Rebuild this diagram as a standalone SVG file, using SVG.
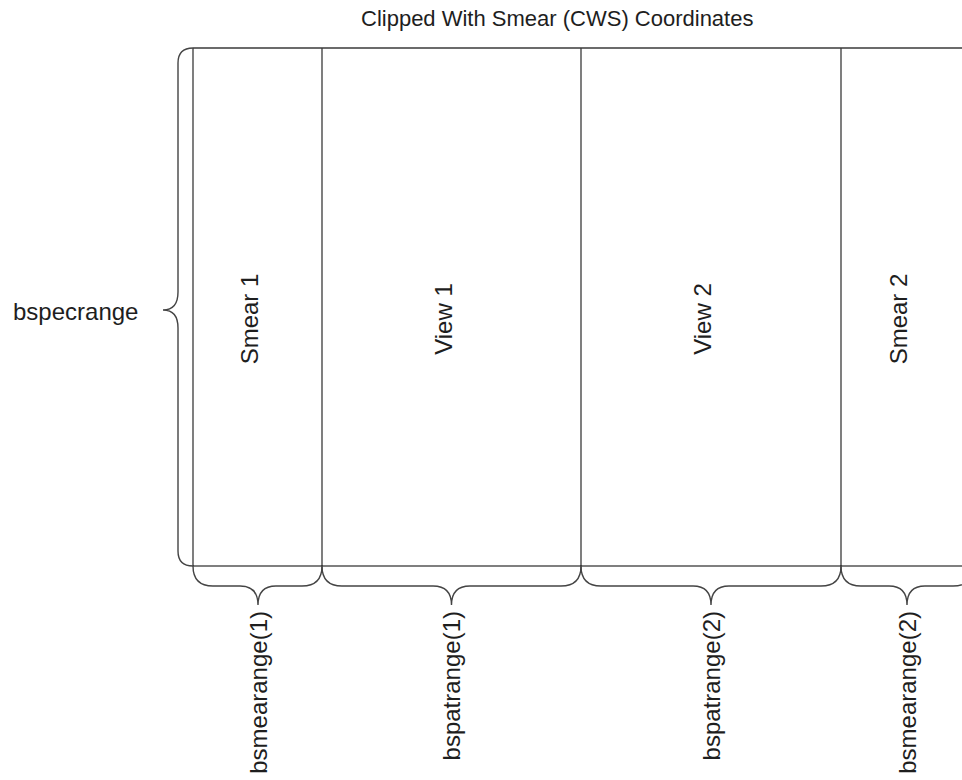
<svg xmlns="http://www.w3.org/2000/svg" width="962" height="780" viewBox="0 0 962 780">
  <style>
    .frame { fill: none; stroke: #3a3a3a; stroke-width: 1.3; }
    .base { fill: none; stroke: #000; stroke-width: 1.2; }
    .brace { fill: none; stroke: #444; stroke-width: 1.4; }
    text { font-family: "Liberation Sans", Arial, sans-serif; fill: #1e1e1e; }
    .lbl { font-size: 24px; }
    .title { font-size: 22px; }
  </style>
  <rect width="962" height="780" fill="#fff"/>

  <text class="title" x="361" y="26">Clipped With Smear (CWS) Coordinates</text>

  <!-- columns of the CWS frame -->
  <g id="smear1">
    <line class="frame" x1="193" y1="48" x2="193" y2="566"/>
    <text class="lbl" text-anchor="middle" transform="translate(257.5,319) rotate(-90)">Smear 1</text>
  </g>
  <g id="view1">
    <line class="frame" x1="322" y1="48" x2="322" y2="566"/>
    <text class="lbl" text-anchor="middle" transform="translate(451.5,319) rotate(-90)">View 1</text>
  </g>
  <g id="view2">
    <line class="frame" x1="581" y1="48" x2="581" y2="566"/>
    <text class="lbl" text-anchor="middle" transform="translate(711,319) rotate(-90)">View 2</text>
  </g>
  <g id="smear2">
    <line class="frame" x1="841" y1="48" x2="841" y2="566"/>
    <text class="lbl" text-anchor="middle" transform="translate(907,319) rotate(-90)">Smear 2</text>
  </g>

  <g id="connectors">
    <line class="frame" x1="193" y1="48" x2="962" y2="48"/>
    <line class="base" x1="193" y1="566" x2="962" y2="566"/>

    <!-- vertical brace on the left -->
    <path class="brace" d="M193,48 Q178,48 178,63 L178,292 Q178,310 163,310 Q178,310 178,328 L178,551 Q178,566 193,566"/>

    <!-- braces under the columns -->
    <path class="brace" d="M193,566 Q193,586 213,586 L240,586 Q258,586 258,605 Q258,586 276,586 L302,586 Q322,586 322,566"/>
    <path class="brace" d="M322,566 Q322,586 342,586 L433,586 Q451.5,586 451.5,605 Q451.5,586 470,586 L561,586 Q581,586 581,566"/>
    <path class="brace" d="M581,566 Q581,586 601,586 L693,586 Q711,586 711,605 Q711,586 729,586 L821,586 Q841,586 841,566"/>
    <path class="brace" d="M841,566 Q841,586 861,586 L889,586 Q907,586 907,605 Q907,586 925,586 L953,586 Q973,586 973,566"/>
  </g>

  <g id="bspecrange">
    <text class="lbl" x="13" y="320">bspecrange</text>
  </g>
  <g id="bsmearange1">
    <text class="lbl" text-anchor="end" transform="translate(267,611) rotate(-90)">bsmearange(1)</text>
  </g>
  <g id="bspatrange1">
    <text class="lbl" text-anchor="end" transform="translate(460,611) rotate(-90)">bspatrange(1)</text>
  </g>
  <g id="bspatrange2">
    <text class="lbl" text-anchor="end" transform="translate(720,611) rotate(-90)">bspatrange(2)</text>
  </g>
  <g id="bsmearange2">
    <text class="lbl" text-anchor="end" transform="translate(916,611) rotate(-90)">bsmearange(2)</text>
  </g>
</svg>
